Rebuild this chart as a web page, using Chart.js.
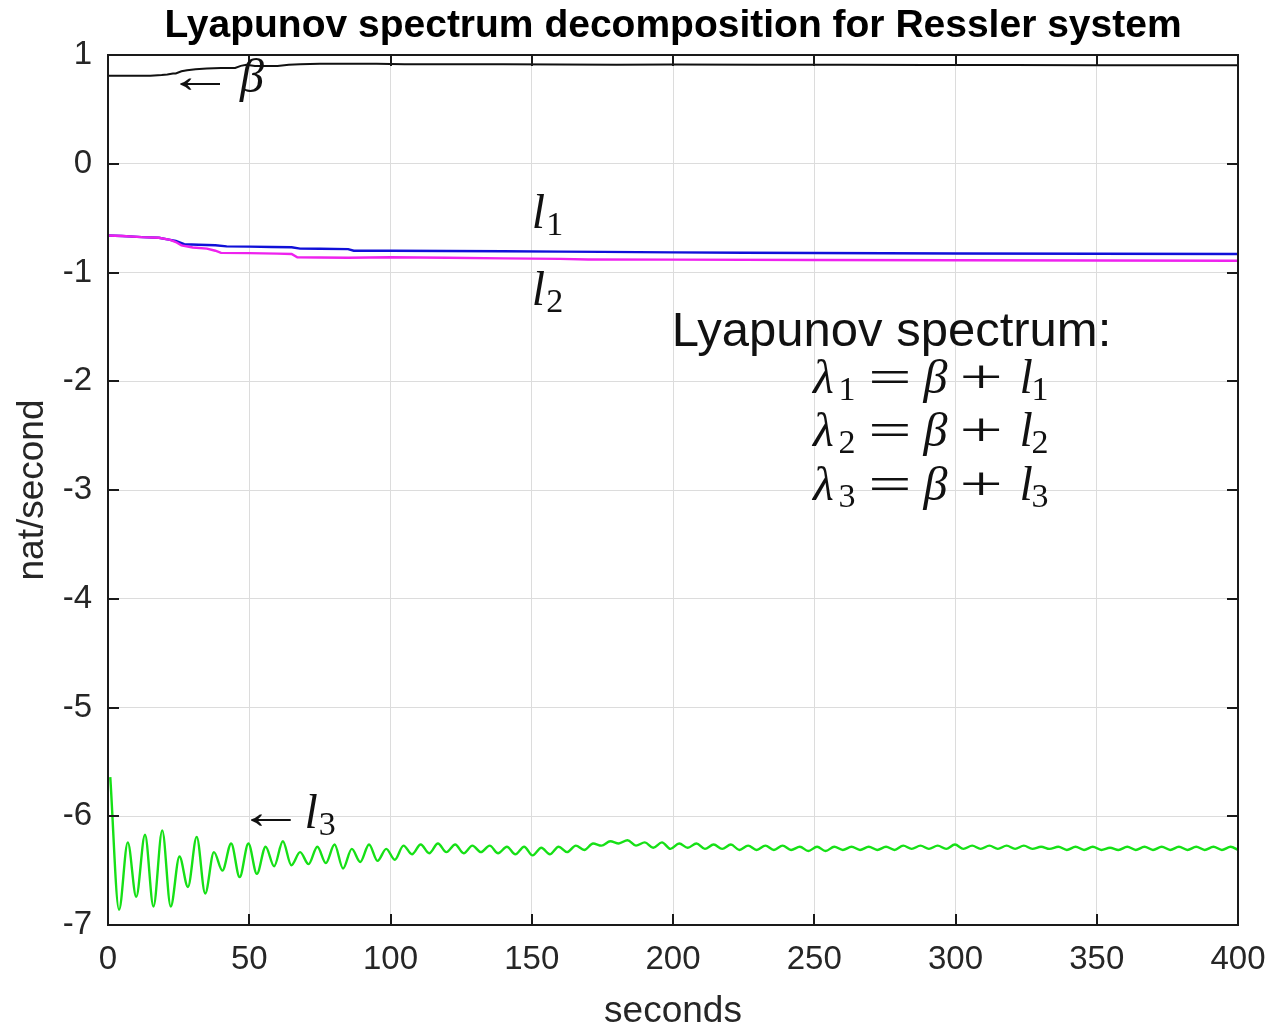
<!DOCTYPE html>
<html>
<head>
<meta charset="utf-8">
<script src="https://cdn.jsdelivr.net/npm/chart.js@4"></script>
<style>
  html, body { margin: 0; padding: 0; background: #fff; }
</style>
</head>
<body>
<canvas id="lyap" width="1269" height="1030"></canvas>
<script>
// beta (black)
const tBeta = [0, 8, 15, 19, 21, 23, 24, 26, 28, 31, 35, 40, 45, 47, 49, 52, 56, 60, 64, 68,
               75, 85, 95, 105, 120, 140, 160, 180, 200, 230, 260, 290, 320, 350, 380, 400];
const beta  = [0.81, 0.81, 0.81, 0.815, 0.82, 0.83, 0.83, 0.85, 0.86, 0.87, 0.875, 0.88, 0.88, 0.9, 0.91, 0.9, 0.9, 0.9, 0.91, 0.915,
               0.92, 0.92, 0.92, 0.915, 0.915, 0.915, 0.912, 0.91, 0.912, 0.91, 0.91, 0.908, 0.908, 0.906, 0.906, 0.905];

// l1 (blue)
const tL1 = [0, 5, 12, 18, 22, 24, 27, 32, 38, 42, 50, 58, 65, 68, 75, 85, 87, 100, 120, 140,
             160, 175, 200, 225, 250, 300, 350, 400];
const l1  = [-0.66, -0.665, -0.675, -0.68, -0.70, -0.71, -0.74, -0.745, -0.75, -0.76, -0.762, -0.765, -0.768, -0.78, -0.782, -0.785, -0.80, -0.80, -0.802, -0.805,
             -0.808, -0.81, -0.815, -0.818, -0.82, -0.825, -0.828, -0.83];

// l2 (magenta)
const tL2 = [0, 5, 12, 18, 22, 24, 26, 30, 35, 38, 40, 50, 60, 65, 67, 75, 85, 100, 120, 140,
             160, 170, 200, 250, 300, 350, 400];
const l2  = [-0.66, -0.665, -0.675, -0.68, -0.70, -0.72, -0.75, -0.77, -0.78, -0.80, -0.82, -0.822, -0.826, -0.83, -0.86, -0.862, -0.865, -0.86, -0.865, -0.87,
             -0.875, -0.88, -0.882, -0.885, -0.888, -0.89, -0.892];

// l3 (green), peaks and troughs of the running average
const tL3 = [0.8, 3.9, 7.0, 10.0, 13.1, 16.1, 19.2, 22.2, 25.3, 28.3,
             31.4, 34.4, 37.5, 40.5, 43.6, 46.6, 49.7, 52.7, 55.8, 58.8,
             61.9, 64.9, 68.0, 71.0, 74.1, 77.1, 80.2, 83.2, 86.3, 89.3,
             92.4, 95.4, 98.5, 101.5, 104.6, 107.6, 110.7, 113.7, 116.8, 119.8,
             122.9, 125.9, 129.0, 132.0, 135.1, 138.1, 141.2, 144.2, 147.3, 150.3,
             153.4, 156.4, 159.5, 162.5, 165.6, 168.6, 171.7, 174.7, 177.8, 180.8,
             183.9, 186.9, 190.0, 193.0, 196.1, 199.1, 202.2, 205.2, 208.3, 211.3,
             214.4, 217.4, 220.5, 223.5, 226.6, 229.6, 232.7, 235.7, 238.8, 241.8,
             244.9, 247.9, 251.0, 254.0, 257.1, 260.1, 263.2, 266.2, 269.3, 272.3,
             275.4, 278.4, 281.5, 284.5, 287.6, 290.6, 293.7, 296.7, 299.8, 302.8,
             305.9, 308.9, 312.0, 315.0, 318.1, 321.1, 324.2, 327.2, 330.3, 333.3,
             336.4, 339.4, 342.5, 345.5, 348.6, 351.6, 354.7, 357.7, 360.8, 363.8,
             366.9, 369.9, 373.0, 376.0, 379.1, 382.1, 385.2, 388.2, 391.3, 394.3,
             397.4, 400];
const l3  = [-5.64, -6.86, -6.24, -6.74, -6.17, -6.83, -6.13, -6.83, -6.37, -6.65,
             -6.19, -6.71, -6.33, -6.50, -6.25, -6.56, -6.25, -6.53, -6.28, -6.46,
             -6.23, -6.45, -6.33, -6.44, -6.28, -6.43, -6.26, -6.48, -6.30, -6.42,
             -6.26, -6.41, -6.30, -6.40, -6.27, -6.35, -6.26, -6.34, -6.25, -6.33,
             -6.26, -6.34, -6.27, -6.33, -6.27, -6.34, -6.28, -6.35, -6.28, -6.36,
             -6.29, -6.35, -6.28, -6.33, -6.27, -6.31, -6.25, -6.27, -6.23, -6.25,
             -6.22, -6.27, -6.24, -6.29, -6.24, -6.30, -6.25, -6.29, -6.25, -6.30,
             -6.26, -6.30, -6.26, -6.31, -6.27, -6.31, -6.27, -6.31, -6.27, -6.31,
             -6.28, -6.32, -6.28, -6.32, -6.28, -6.31, -6.28, -6.31, -6.28, -6.31,
             -6.28, -6.31, -6.27, -6.30, -6.27, -6.30, -6.27, -6.30, -6.26, -6.30,
             -6.27, -6.30, -6.27, -6.30, -6.27, -6.30, -6.27, -6.30, -6.28, -6.30,
             -6.28, -6.31, -6.28, -6.31, -6.28, -6.31, -6.29, -6.31, -6.28, -6.31,
             -6.28, -6.31, -6.28, -6.31, -6.28, -6.31, -6.28, -6.31, -6.28, -6.31,
             -6.28, -6.31];

const xTicks = [0, 50, 100, 150, 200, 250, 300, 350, 400];
const yTicks = [1, 0, -1, -2, -3, -4, -5, -6, -7];

const pts = (t, v) => t.map((x, i) => ({ x: x, y: v[i] }));

const sans = '"Liberation Sans", Arial, Helvetica, sans-serif';
const serif = '"Liberation Serif", "Times New Roman", serif';
const ink = '#262626';

// text labels, placed in data coordinates; runs are [text, kind, offset in em]
const notes = [
  { x: 25.8, y: 0.66, runs: [['←', 'arr', -0.3], ['β', 'i', 1.23]] },
  { x: 150, y: -0.591, runs: [['l', 'i', 0], ['1', 'sub', 0.3]] },
  { x: 150, y: -1.299, runs: [['l', 'i', 0], ['2', 'sub', 0.3]] },
  { x: 50.5, y: -6.108, runs: [['←', 'arr', -0.28], ['l', 'i', 1.12], ['3', 'sub', 1.42]] },
  { x: 249.6, y: -2.108, runs: [['λ', 'i', 0], ['1', 'sub', 0.53], ['=', 'op', 1.15], ['β', 'i', 2.3], ['+', 'op', 3.05], ['l', 'i', 4.3], ['1', 'sub', 4.55]] },
  { x: 249.6, y: -2.595, runs: [['λ', 'i', 0], ['2', 'sub', 0.53], ['=', 'op', 1.15], ['β', 'i', 2.3], ['+', 'op', 3.05], ['l', 'i', 4.3], ['2', 'sub', 4.55]] },
  { x: 249.6, y: -3.092, runs: [['λ', 'i', 0], ['3', 'sub', 0.53], ['=', 'op', 1.15], ['β', 'i', 2.3], ['+', 'op', 3.05], ['l', 'i', 4.3], ['3', 'sub', 4.55]] }
];

function drawRuns(ctx, runs, x0, y0, size) {
  ctx.fillStyle = '#111';
  ctx.textBaseline = 'alphabetic';
  ctx.textAlign = 'left';
  for (const [txt, kind, off] of runs) {
    const x = x0 + off * size;
    ctx.save();
    if (kind === 'i') {
      ctx.font = 'italic ' + size + 'px ' + serif;
      ctx.fillText(txt, x, y0);
    } else if (kind === 'sub') {
      ctx.font = Math.round(size * 0.7) + 'px ' + serif;
      ctx.fillText(txt, x, y0 + size * 0.15);
    } else {
      // = + and arrows are wider in TeX fonts, stretch them a bit
      ctx.font = size + 'px ' + serif;
      ctx.translate(x, y0);
      ctx.scale(kind === 'arr' ? 1.4 : 1.6, 1);
      ctx.fillText(txt, 0, 0);
    }
    ctx.restore();
  }
}

const decor = {
  id: 'decor',
  afterDatasetsDraw(chart) {
    const { ctx, chartArea: a, scales } = chart;
    const xs = scales.x, ys = scales.y;
    ctx.save();
    // box with inward tick marks on every side
    ctx.strokeStyle = '#1a1a1a';
    ctx.lineWidth = 2;
    ctx.strokeRect(a.left, a.top, a.right - a.left, a.bottom - a.top);
    ctx.beginPath();
    const tl = 11;
    xTicks.forEach(v => {
      const px = Math.round(xs.getPixelForValue(v));
      ctx.moveTo(px, a.bottom); ctx.lineTo(px, a.bottom - tl);
      ctx.moveTo(px, a.top); ctx.lineTo(px, a.top + tl);
    });
    yTicks.forEach(v => {
      const py = Math.round(ys.getPixelForValue(v));
      ctx.moveTo(a.left, py); ctx.lineTo(a.left + tl, py);
      ctx.moveTo(a.right, py); ctx.lineTo(a.right - tl, py);
    });
    ctx.stroke();

    // title
    ctx.fillStyle = '#000';
    ctx.font = 'bold 39px ' + sans;
    ctx.textAlign = 'center';
    ctx.textBaseline = 'alphabetic';
    ctx.fillText('Lyapunov spectrum decomposition for Ressler system', (a.left + a.right) / 2, 37);

    // annotation heading
    ctx.fillStyle = '#111';
    ctx.font = '49px ' + sans;
    ctx.textAlign = 'left';
    ctx.fillText('Lyapunov spectrum:', xs.getPixelForValue(199.6), ys.getPixelForValue(-1.676));

    notes.forEach(n => drawRuns(ctx, n.runs, xs.getPixelForValue(n.x), ys.getPixelForValue(n.y), 48));
    ctx.restore();
  }
};

new Chart(document.getElementById('lyap'), {
  type: 'line',
  data: {
    datasets: [
      { label: 'l3', data: pts(tL3, l3), borderColor: '#16e016', borderWidth: 2.4, cubicInterpolationMode: 'monotone' },
      { label: 'l2', data: pts(tL2, l2), borderColor: '#ee22ee', borderWidth: 2.4 },
      { label: 'l1', data: pts(tL1, l1), borderColor: '#1010d8', borderWidth: 2.4 },
      { label: 'beta', data: pts(tBeta, beta), borderColor: '#111111', borderWidth: 2 }
    ]
  },
  options: {
    responsive: false,
    animation: false,
    devicePixelRatio: 1,
    layout: { padding: { top: 55, right: 31, left: 0, bottom: 0 } },
    elements: { point: { radius: 0 }, line: { tension: 0 } },
    plugins: { legend: { display: false }, tooltip: { enabled: false }, title: { display: false } },
    scales: {
      x: {
        type: 'linear', min: 0, max: 400,
        afterBuildTicks: s => { s.ticks = xTicks.map(v => ({ value: v })); },
        afterFit: s => { s.height = 105; s.paddingLeft = 0; s.paddingRight = 0; },
        ticks: { autoSkip: false, maxRotation: 0, padding: 15, color: ink, font: { family: sans, size: 33 } },
        grid: { color: '#dcdcdc', lineWidth: 1, drawTicks: false },
        border: { display: false },
        title: { display: true, text: 'seconds', color: ink, padding: 0, font: { family: sans, size: 37, lineHeight: 1 } }
      },
      y: {
        type: 'linear', min: -7, max: 1,
        afterBuildTicks: s => { s.ticks = yTicks.map(v => ({ value: v })); },
        afterFit: s => { s.width = 108; s.paddingTop = 0; s.paddingBottom = 0; },
        ticks: { autoSkip: false, padding: 16, color: ink, font: { family: sans, size: 33 } },
        grid: { color: '#dcdcdc', lineWidth: 1, drawTicks: false },
        border: { display: false },
        title: { display: true, text: 'nat/second', color: ink, padding: { top: 14, bottom: 0 }, font: { family: sans, size: 37, lineHeight: 1 } }
      }
    }
  },
  plugins: [decor]
});
</script>
</body>
</html>
